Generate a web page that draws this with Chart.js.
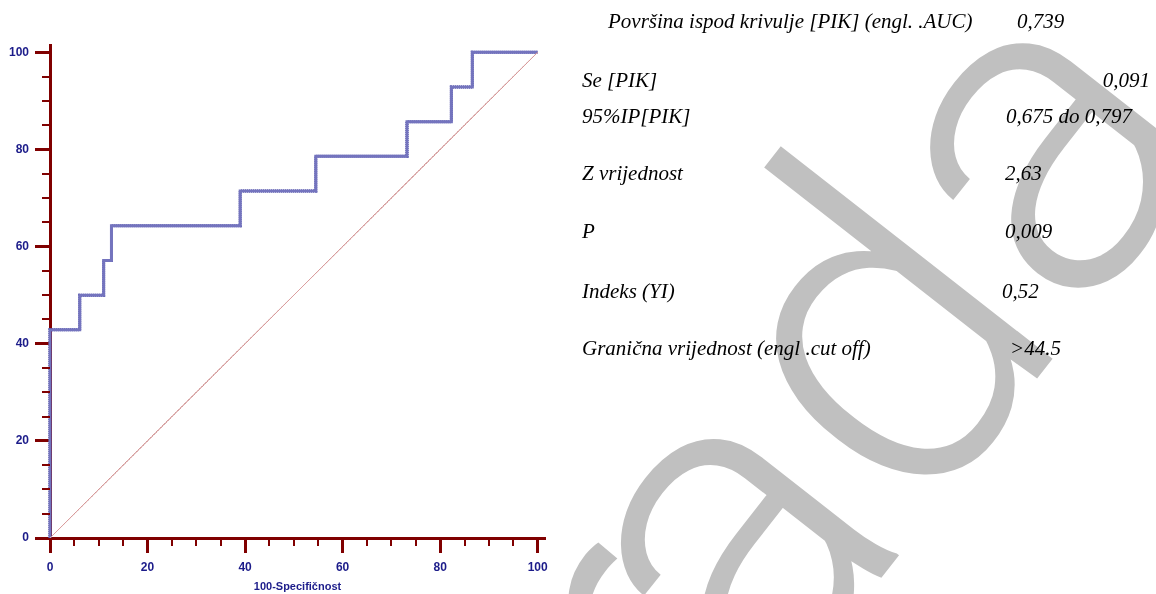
<!DOCTYPE html>
<html>
<head>
<meta charset="utf-8">
<script src="https://cdn.jsdelivr.net/npm/chart.js@4/dist/chart.umd.min.js"></script>
<style>
html,body{margin:0;padding:0;background:#fff;width:1156px;height:594px;overflow:hidden;}
#wrap{position:relative;width:1156px;height:594px;}
#wm{position:absolute;left:0;top:0;z-index:0;}
#chartBox{position:absolute;left:0;top:0;width:560px;height:594px;z-index:1;background:transparent;}
#stats{position:absolute;left:0;top:0;z-index:2;}
</style>
</head>
<body>
<div id="wrap">
<svg id="wm" width="1156" height="594" xmlns="http://www.w3.org/2000/svg">
  <text id="wmText" x="700" y="810" transform="rotate(-52 700 810)" font-family="Roboto, Liberation Sans, Arial, sans-serif" font-weight="300" font-size="460" fill="#c0c0c0">r<tspan dx="-40">ada</tspan></text>
</svg>
<div id="chartBox"><canvas id="c" width="560" height="594"></canvas></div>
<svg id="stats" width="1156" height="594" xmlns="http://www.w3.org/2000/svg" font-family="Liberation Serif, Times New Roman, serif" font-style="italic" font-size="21" fill="#000"></svg>
</div>
<script>
// ---- data ----
const rocFpr  = [0, 0, 6.1, 11.0, 12.6, 39.0, 54.5, 73.2, 82.3, 86.6, 100];     // 100-Specifičnost
const rocSens = [0, 42.86, 50.0, 57.14, 64.29, 71.43, 78.57, 85.71, 92.86, 100, 100]; // Osjetljivost
const refX = [0, 100];
const refY = [0, 100];
const majorTicks = [0, 20, 40, 60, 80, 100];
const minorTicks = [5, 10, 15, 25, 30, 35, 45, 50, 55, 65, 70, 75, 85, 90, 95];
const statLabels = ["Površina ispod krivulje [PIK] (engl. .AUC)", "Se [PIK]", "95%IP[PIK]", "Z vrijednost", "P", "Indeks (YI)", "Granična vrijednost (engl .cut off)"];
const statValues = ["0,739", "0,091", "0,675 do 0,797", "2,63", "0,009", "0,52", ">44.5"];
const xTitle = "100-Specifičnost";

// ---- stats panel (text) ----
const statLayout = [
  {lx:608, vx:1017, y:28, anchor:'start'},
  {lx:582, vx:1150, y:87, anchor:'end'},
  {lx:582, vx:1006, y:123, anchor:'start'},
  {lx:582, vx:1005, y:180, anchor:'start'},
  {lx:582, vx:1005, y:238, anchor:'start'},
  {lx:582, vx:1002, y:298, anchor:'start'},
  {lx:582, vx:1010, y:355, anchor:'start'}
];
const svgNS = "http://www.w3.org/2000/svg";
const stats = document.getElementById('stats');
statLabels.forEach((lab, i) => {
  const L = statLayout[i];
  const t1 = document.createElementNS(svgNS, 'text');
  t1.setAttribute('x', L.lx); t1.setAttribute('y', L.y); t1.textContent = lab;
  stats.appendChild(t1);
  const t2 = document.createElementNS(svgNS, 'text');
  t2.setAttribute('x', L.vx); t2.setAttribute('y', L.y); t2.setAttribute('text-anchor', L.anchor);
  t2.textContent = statValues[i];
  stats.appendChild(t2);
});

// ---- chart ----
const AXIS = '#800000';
const LABEL = '#1c1c8a';
const rocPts = rocFpr.map((x, i) => ({x, y: rocSens[i]}));
const refPts = refX.map((x, i) => ({x, y: refY[i]}));

const minorTickPlugin = {
  id: 'minorTicks',
  afterDatasetsDraw(chart) {
    const ctx = chart.ctx, xs = chart.scales.x, ys = chart.scales.y;
    const ca = chart.chartArea;
    ctx.save();
    ctx.strokeStyle = AXIS;
    ctx.lineWidth = 2;
    minorTicks.forEach(v => {
      const px = Math.round(xs.getPixelForValue(v));
      ctx.beginPath(); ctx.moveTo(px, ca.bottom); ctx.lineTo(px, ca.bottom + 8); ctx.stroke();
      const py = Math.round(ys.getPixelForValue(v));
      ctx.beginPath(); ctx.moveTo(ca.left - 8, py); ctx.lineTo(ca.left, py); ctx.stroke();
    });
    ctx.restore();
  }
};

const tickFont = {family: 'Liberation Sans, Arial, sans-serif', size: 12, weight: 'bold'};

new Chart(document.getElementById('c'), {
  type: 'scatter',
  data: {
    datasets: [
      {data: refPts, showLine: true, borderColor: '#dca0a0', borderWidth: 1, pointRadius: 0, clip: false},
      {data: refPts, showLine: true, borderColor: '#7a0000', borderWidth: 1, borderDash: [1, 1], pointRadius: 0, clip: false},
      {data: rocPts, showLine: true, stepped: 'before', borderColor: '#7474be', borderWidth: 3, pointRadius: 0, clip: false},
      {data: rocPts, showLine: true, stepped: 'before', borderColor: '#141488', borderWidth: 3, borderDash: [1, 1], pointRadius: 0, clip: false}
    ]
  },
  options: {
    responsive: false,
    animation: false,
    events: [],
    layout: {padding: {top: 45, right: 15, left: 0, bottom: 0}},
    plugins: {legend: {display: false}, tooltip: {enabled: false}},
    scales: {
      x: {
        type: 'linear', min: 0, max: 101.5, position: 'bottom',
        afterBuildTicks: s => { s.ticks = majorTicks.map(v => ({value: v})); },
        afterFit: s => { s.height = 56; },
        grid: {drawOnChartArea: false, drawTicks: true, tickLength: 15, tickColor: AXIS, tickWidth: 3},
        border: {display: true, color: AXIS, width: 3},
        ticks: {color: LABEL, font: tickFont, padding: 7, maxRotation: 0, autoSkip: false},
        title: {display: true, text: xTitle, color: LABEL, font: {family: 'Liberation Sans, Arial, sans-serif', size: 11, weight: 'bold'}, padding: {top: 0, bottom: 0}}
      },
      y: {
        type: 'linear', min: 0, max: 101.5, position: 'left',
        afterBuildTicks: s => { s.ticks = majorTicks.map(v => ({value: v})); },
        afterFit: s => { s.width = 50; },
        grid: {drawOnChartArea: false, drawTicks: true, tickLength: 15, tickColor: AXIS, tickWidth: 3},
        border: {display: true, color: AXIS, width: 3},
        ticks: {color: LABEL, font: tickFont, padding: 6, autoSkip: false}
      }
    }
  },
  plugins: [minorTickPlugin]
});
</script>
</body>
</html>
